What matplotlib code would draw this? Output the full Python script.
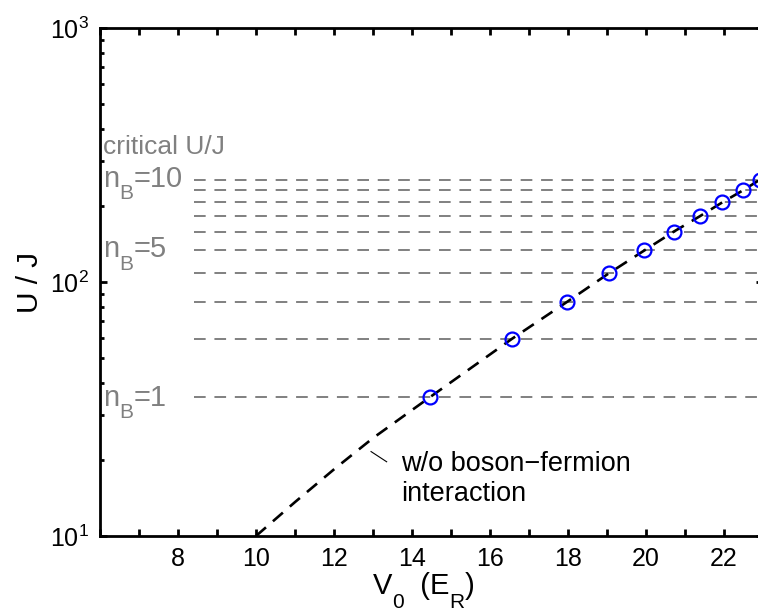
import numpy as np
import matplotlib
matplotlib.use('Agg')
import matplotlib.pyplot as plt
import matplotlib.transforms as mtransforms
from matplotlib.ticker import MultipleLocator, LogLocator, NullFormatter

# critical U/J for n_B = 1..10
n_boson = [1, 2, 3, 4, 5, 6, 7, 8, 9, 10]
critical_uj = [35.2, 59.7, 83.6, 108.5, 133.2, 157.8, 181.5, 206.0, 229.7, 252.8]

# lattice depth where U/J reaches the critical value (blue circles)
v0_cross = [14.46, 16.56, 17.98, 19.06, 19.96, 20.71, 21.38, 21.96, 22.49, 22.92]

# U/J vs V0 without boson-fermion interaction (black dashed curve)
v0_line = [10.0, 11.0, 12.0, 13.0, 14.46, 16.56, 17.98, 19.06, 19.96, 20.71, 21.38, 21.96, 22.49, 22.92, 23.5]
uj_line = [10.0, 13.6, 18.3, 24.3, 35.2, 59.7, 83.6, 108.5, 133.2, 157.8, 181.5, 206.0, 229.7, 252.8, 290.0]

# gray labels on the left: (U/J of baseline, n_B shown)
nb_labels = [(237, '10'), (125, '5'), (32.5, '1')]

plt.rcParams['font.family'] = ['Liberation Sans', 'DejaVu Sans']
plt.rcParams['mathtext.fontset'] = 'custom'
plt.rcParams['mathtext.rm'] = 'Liberation Sans'
plt.rcParams['mathtext.it'] = 'Liberation Sans'
plt.rcParams['mathtext.default'] = 'regular'

fig = plt.figure(figsize=(7.58, 6.12), dpi=100)
ax = fig.add_axes([100 / 758, 76 / 612, 663 / 758, 508 / 612])
renderer = fig.canvas.get_renderer()


def put_parts(x, y, parts, trans, color='black'):
    # matlab-like text with big, dropped subscripts: (string, size, dy in pt)
    dx = 0.0
    for s, size, dy in parts:
        t = fig.text(x, y, s, fontsize=size, color=color, ha='left', va='baseline',
                     transform=mtransforms.offset_copy(trans, fig=fig, x=dx, y=dy, units='points'))
        dx += t.get_window_extent(renderer).width * 72 / fig.dpi


gray = '#808080'
ax.hlines(critical_uj, 8.4, 23, colors=gray, linestyles=(0, (6, 4.5)), lw=1.4)

ax.plot(v0_line, uj_line, color='black', lw=1.9, ls=(0, (5, 3.5)))
ax.plot(v0_cross, critical_uj, 'o', mfc='none', mec='blue', ms=10, mew=1.6)

ax.text(6.08, 319, 'critical U/J', color=gray, fontsize=19, ha='left', va='baseline')
for y, n in nb_labels:
    put_parts(6.08, y, [('n', 21, 0), ('B', 15, -9), ('=' + n, 21, 0)], ax.transData, gray)

ax.plot([12.95, 13.35], [21.5, 19.6], color='black', lw=0.8)
ax.text(13.72, 21.6, 'w/o boson\u2212fermion\ninteraction', fontsize=19.5,
        ha='left', va='top', linespacing=1.2)

ax.set_yscale('log')
ax.set_xlim(6, 23)
ax.set_ylim(10, 1000)
ax.xaxis.set_major_locator(MultipleLocator(2))
ax.xaxis.set_minor_locator(MultipleLocator(1))
ax.set_xticks([8, 10, 12, 14, 16, 18, 20, 22])
ax.yaxis.set_minor_locator(LogLocator(base=10, subs=np.arange(2, 10)))
ax.yaxis.set_minor_formatter(NullFormatter())

for s in ax.spines.values():
    s.set_linewidth(2)
ax.tick_params(which='both', direction='in', top=True, right=True, labelsize=18, width=2)
ax.tick_params(which='major', length=5, pad=8)
ax.tick_params(axis='x', which='minor', length=5)
ax.tick_params(axis='y', which='minor', length=3)

# x label drawn piecewise so subscripts drop like the original
put_parts(373 / 758, 18 / 612, [('V', 21, 0), ('0', 15, -10), ('  (E', 21, 0),
                                ('R', 15, -10), (')', 21, 0)], fig.transFigure)
ax.set_ylabel('U / J', fontsize=21.5, labelpad=4)

fig.savefig('out.png', dpi=100)
